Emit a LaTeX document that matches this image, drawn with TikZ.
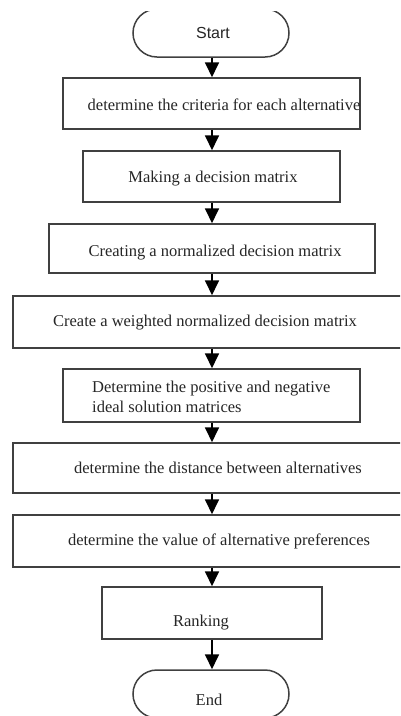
\documentclass[tikz,border=0pt]{standalone}
\usepackage{fontspec}
\setmainfont{Liberation Serif}
\newfontfamily\sansf{Liberation Sans}
\usetikzlibrary{arrows.meta}
\begin{document}
\begin{tikzpicture}[x=1pt,y=-1pt,
  boxstyle/.style={draw=black!75, line width=1.5pt, rectangle, inner sep=0pt},
  termstyle/.style={draw=black!75, line width=1.5pt, rectangle, rounded corners=24pt, inner sep=0pt, minimum width=156pt, minimum height=48pt},
  txt/.style={font=\fontsize{16.5}{20}\selectfont, text=black!85, inner sep=0pt},
  flow/.style={draw=black, line width=1.8pt, -{Triangle[width=14pt,length=15pt]}}
]
\useasboundingbox (0,0) rectangle (400,716);
\begin{scope}
\clip (0,11) rectangle (400,716);
% boxes
\node[termstyle] (start) at (211,33) {};
\node[boxstyle, minimum width=297pt, minimum height=51pt] (b1) at (211.5,103.5) {};
\node[boxstyle, minimum width=257pt, minimum height=51pt] (b2) at (211.5,176.5) {};
\node[boxstyle, minimum width=326pt, minimum height=49pt] (b3) at (212,248.5) {};
\node[boxstyle, minimum width=397pt, minimum height=52pt] (b4) at (211.5,322) {};
\node[boxstyle, minimum width=297pt, minimum height=53pt] (b5) at (211.5,395.5) {};
\node[boxstyle, minimum width=397pt, minimum height=50pt] (b6) at (211.5,468) {};
\node[boxstyle, minimum width=397pt, minimum height=52pt] (b7) at (211.5,541) {};
\node[boxstyle, minimum width=220pt, minimum height=52pt] (b8) at (212,613) {};
\node[termstyle] (stop) at (211,694) {};
% texts
\node[txt, font=\sansf\fontsize{16}{19}\selectfont] (tstart) at (213,33) {Start};
\node[txt] (t1) at (224,105) {determine the criteria for each alternative};
\node[txt] (t2) at (213,179) {Making a decision matrix};
\node[txt] (t3) at (215,253) {Creating a normalized decision matrix};
\node[txt] (t4) at (205,323) {Create a weighted normalized decision matrix};
\node[txt, align=left, anchor=west] (t5) at (92,397) {Determine the positive and negative\\ideal solution matrices};
\node[txt] (t6) at (218,468) {determine the distance between alternatives};
\node[txt] (t7) at (219,541) {determine the value of alternative preferences};
\node[txt] (t8) at (201,623) {Ranking};
\node[txt] (tend) at (209,700) {End};
% connectors
\coordinate (ax) at (212,0);
\draw[flow] (start.south -| ax) -- (b1.north -| ax);
\draw[flow] (b1.south -| ax) -- (b2.north -| ax);
\draw[flow] (b2.south -| ax) -- (b3.north -| ax);
\draw[flow] (b3.south -| ax) -- (b4.north -| ax);
\draw[flow] (b4.south -| ax) -- (b5.north -| ax);
\draw[flow] (b5.south -| ax) -- (b6.north -| ax);
\draw[flow] (b6.south -| ax) -- (b7.north -| ax);
\draw[flow] (b7.south -| ax) -- (b8.north -| ax);
\draw[flow] (b8.south -| ax) -- (stop.north -| ax);
\end{scope}
\end{tikzpicture}
\end{document}
